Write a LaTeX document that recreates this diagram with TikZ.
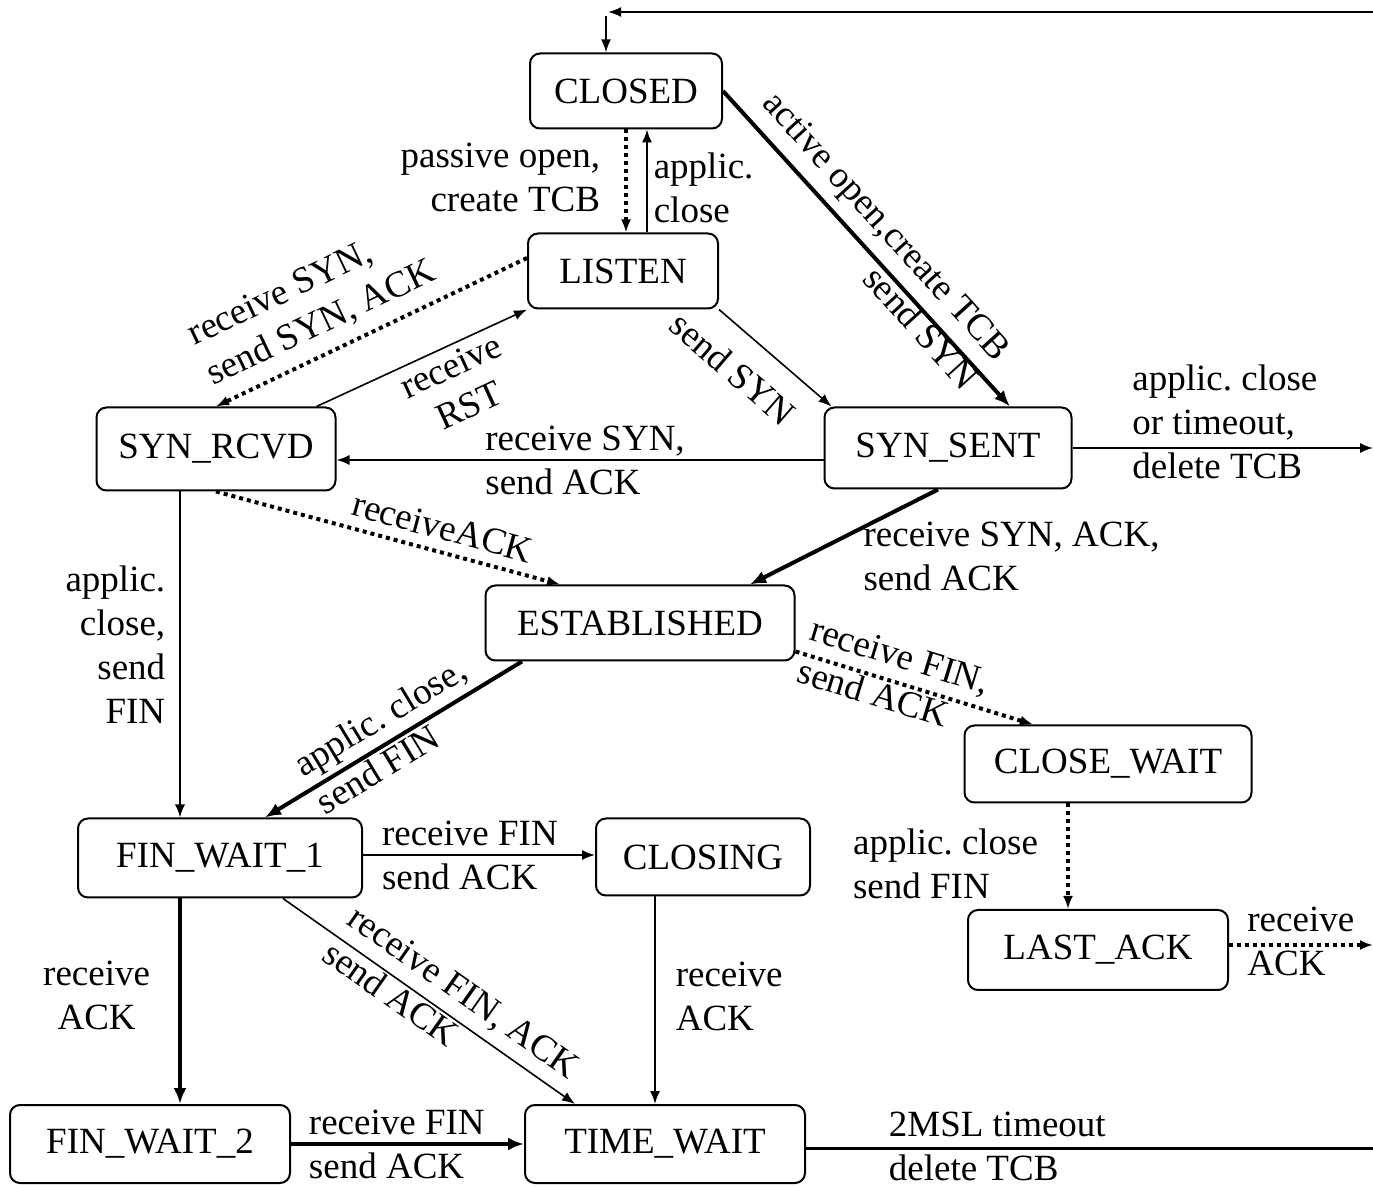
\documentclass[tikz,border=0pt]{standalone}
\usepackage{fontspec}
\setmainfont{Liberation Serif}
\usepackage{tikz}
\usetikzlibrary{arrows.meta,positioning}
\frenchspacing

\begin{document}
\begin{tikzpicture}[
  x=0.5pt, y=-0.5pt,
  >={Latex[length=6.5pt,width=5pt]},
  tcpstate/.style={draw,line width=1pt,rounded corners=5pt,
    font=\fontsize{18.5}{22}\selectfont,inner sep=0pt},
  lbl/.style={font=\fontsize{18.5}{22}\selectfont,inner sep=1pt},
  trans/.style={->,line width=0.8pt},
  heavy/.style={-{Latex[length=8pt,width=6.5pt]},line width=2pt},
  dots/.style={->,line width=2pt,dash pattern=on 2pt off 2pt}
]
\useasboundingbox (0,0) rectangle (1373,1187);

\node[tcpstate,minimum width=96pt,minimum height=37.5pt] (closed) at (626,91) {CLOSED};
\node[tcpstate,minimum width=95pt,minimum height=37.5pt] (listen) at (623,271) {LISTEN};
\node[tcpstate,minimum width=119.5pt,minimum height=41.5pt] (synrcvd) at (216,449) {SYN\_RCVD};
\node[tcpstate,minimum width=123.5pt,minimum height=40.5pt] (synsent) at (948,448) {SYN\_SENT};
\node[tcpstate,minimum width=154.5pt,minimum height=37.5pt] (estab) at (640,623) {ESTABLISHED};
\node[tcpstate,minimum width=143.5pt,minimum height=38.5pt] (closewait) at (1108,764) {CLOSE\_WAIT};
\node[tcpstate,minimum width=142pt,minimum height=39.5pt] (finwait1) at (220,858) {FIN\_WAIT\_1};
\node[tcpstate,minimum width=107pt,minimum height=38.5pt] (closing) at (703,857) {CLOSING};
\node[tcpstate,minimum width=130pt,minimum height=40pt] (lastack) at (1098,950) {LAST\_ACK};
\node[tcpstate,minimum width=140pt,minimum height=39pt] (finwait2) at (150,1144) {FIN\_WAIT\_2};
\node[tcpstate,minimum width=140pt,minimum height=39pt] (timewait) at (665,1144) {TIME\_WAIT};

% return line back to CLOSED
\coordinate (retR) at (1373,12);
\coordinate (retL) at (608,12);
\coordinate (retD) at (606,16);
\draw[->,line width=1pt] (retR) -- (retL);
\draw[->,line width=1pt] (retD) -- (retD |- closed.north);

% CLOSED <-> LISTEN
\draw[dots] (closed.south) -- (closed.south |- listen.north)
  node[lbl,pos=0.47,left=11pt,align=right] {passive open,\\create TCB};
\draw[trans] ([xshift=12pt]listen.north) -- ([xshift=12pt]listen.north |- closed.south)
  node[lbl,pos=0.43,right=2pt,align=left] {applic.\\close};

% opening
\draw[heavy] (closed.east) -- ([xshift=31pt]synsent.north)
  node[lbl,sloped,pos=0.91,anchor=east,yshift=4.5pt,align=right] {active open,create TCB\\send SYN};
\draw[trans] (listen.south east) -- ([xshift=4pt]synsent.north west)
  node[lbl,sloped,pos=0.33,below=10pt] {send SYN};
\draw[dots] ([yshift=6.5pt]listen.west) -- (synrcvd.north)
  node[lbl,sloped,pos=0.62,above=5pt,align=left] {receive SYN,\\send SYN, ACK};
\draw[trans] ([xshift=-10pt]synrcvd.north east) -- (listen.south west)
  node[lbl,sloped,pos=0.6,below=2pt,align=center] {receive\\RST};
\draw[trans] ([yshift=-6pt]synsent.west) -- ([yshift=-6pt]synsent.west -| synrcvd.east)
  node[lbl,pos=0.7,anchor=west,align=left] {receive SYN,\\send ACK};
\draw[dots] (synrcvd.south) -- ([xshift=-40pt]estab.north)
  node[lbl,sloped,pos=0.64,above=4pt] {receiveACK};
\draw[heavy] ([xshift=-5pt]synsent.south) -- ([xshift=55pt]estab.north)
  node[lbl,pos=0.3,anchor=north west,xshift=-11pt,align=left] {receive SYN, ACK,\\send ACK};
\coordinate (outS) at (1373,448);
\draw[trans] (synsent.east) -- (outS)
  node[lbl,pos=0.19,anchor=west,yshift=13pt,align=left] {applic. close\\or timeout,\\delete TCB};

% closing
\draw[trans] ([xshift=-18pt]synrcvd.south) -- ([xshift=-18pt]synrcvd.south |- finwait1.north)
  node[lbl,pos=0.47,left=6pt,align=right] {applic.\\close,\\send\\FIN};
\draw[heavy] ([xshift=-59pt]estab.south) -- ([xshift=22.5pt]finwait1.north)
  node[lbl,sloped,pos=0.5,yshift=2.5pt,align=left] {applic. close,\\send FIN};
\draw[dots] ([yshift=5pt]estab.south east) -- ([xshift=-37.5pt]closewait.north)
  node[lbl,sloped,pos=0.02,anchor=west,yshift=2.5pt,align=left] {receive FIN,\\send ACK};
\draw[dots] ([xshift=-20pt]closewait.south) -- ([xshift=-20pt]closewait.south |- lastack.north)
  node[lbl,pos=0.57,left=13pt,align=left] {applic. close\\send FIN};
\coordinate (outL) at (1373,945);
\draw[dots] ([yshift=2.5pt]lastack.east) -- (outL)
  node[lbl,pos=0.1,anchor=west,yshift=2pt,align=left] {receive\\ACK};
\draw[trans] ([yshift=1.5pt]finwait1.east) -- ([yshift=1.5pt]finwait1.east -| closing.west)
  node[lbl,pos=0.07,anchor=west,align=left] {receive FIN\\send ACK};
\draw[heavy] ([xshift=-20pt]finwait1.south) -- ([xshift=-20pt]finwait1.south |- finwait2.north)
  node[lbl,pos=0.47,left=13pt,align=center] {receive\\ACK};
\draw[trans] ([xshift=31.5pt]finwait1.south) -- ([xshift=-45pt]timewait.north)
  node[lbl,sloped,pos=0.175,anchor=west,yshift=3pt,align=left] {receive FIN, ACK\\send ACK};
\draw[trans] ([xshift=-24pt]closing.south) -- ([xshift=-24pt]closing.south |- timewait.north)
  node[lbl,pos=0.48,right=9pt,align=left] {receive\\ACK};
\draw[heavy] (finwait2.east) -- (timewait.west)
  node[lbl,pos=0.06,anchor=west,align=left] {receive FIN\\send ACK};
\coordinate (outT) at (1373,1148);
\draw[line width=1.5pt] ([yshift=-2pt]timewait.east) -- (outT)
  node[lbl,pos=0.14,anchor=west,yshift=1pt,align=left] {2MSL timeout\\delete TCB};
\end{tikzpicture}
\end{document}
